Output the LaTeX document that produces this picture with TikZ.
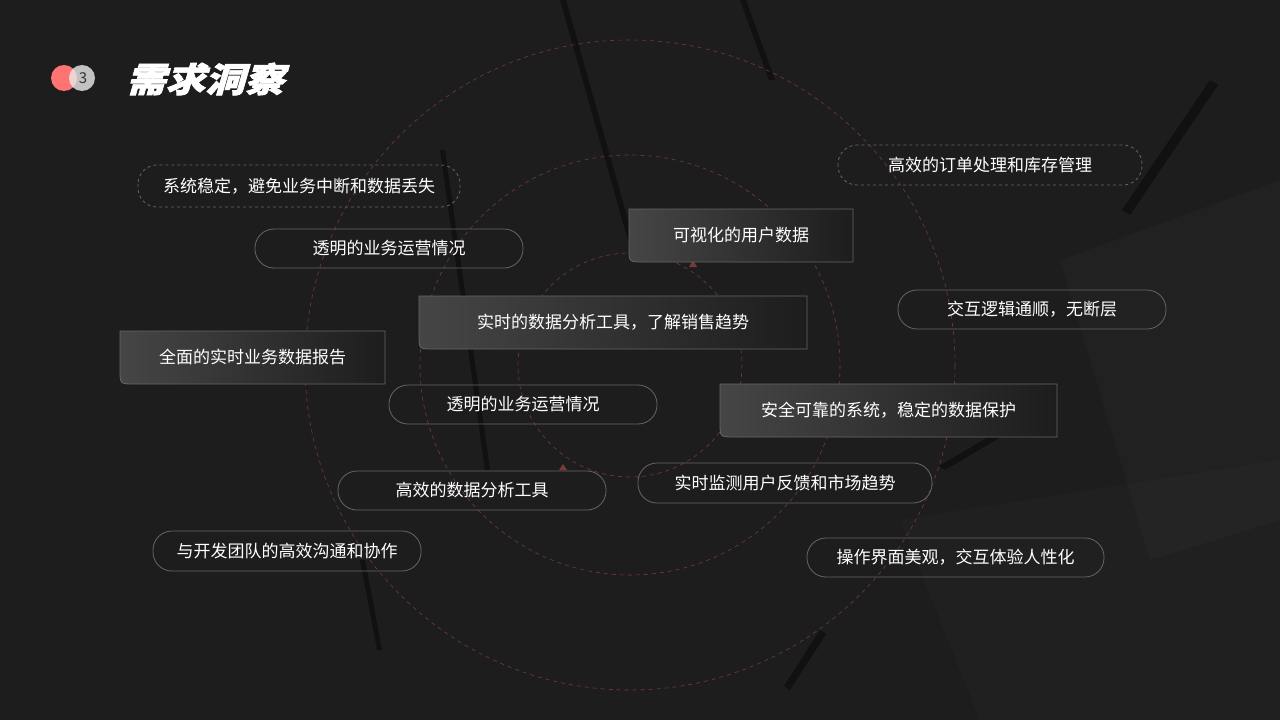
\documentclass[tikz,border=0pt]{standalone}
\usepackage{fontspec}
\setmainfont{Noto Sans CJK SC}
\newfontfamily\titlefont[FakeSlant=0.25,FakeBold=2]{Noto Sans CJK SC Black}
\usetikzlibrary{shapes.geometric}
\definecolor{bg}{HTML}{1D1D1D}
\definecolor{ring}{HTML}{7A3838}
\definecolor{edge}{HTML}{666666}
\tikzset{
 pill/.style={draw=edge,line width=0.8pt,rounded corners=19pt},
 dpill/.style={pill,dash pattern=on 3pt off 3pt},
 lbl/.style={text=white,font=\fontsize{17}{20}\selectfont,inner sep=0pt},
 ringl/.style={draw=ring,dash pattern=on 4pt off 4pt,line width=0.6pt},
 glass/.style={draw=edge,line width=0.8pt,left color=white!18!bg,right color=bg},
 streak/.style={fill=black,opacity=0.4},
}
\newcommand{\glassbox}[6]{%
 \path[glass] (#1,#2) -- (#3,#2) -- (#3,#4) -- (#1+14,#4) .. controls (#1,#4) .. (#1,#4-14) -- cycle;
 \node[lbl] (#6) at ({(#1+#3)/2},{(#2+#4)/2}) {#5};}
\newcommand{\pillbox}[7]{%
 \path[#7] (#1,#2) rectangle (#3,#4);
 \node[lbl] (#6) at ({(#1+#3)/2},{(#2+#4)/2}) {#5};}
\begin{document}
\begin{tikzpicture}[x=1pt,y=-1pt]
\fill[bg] (0,0) rectangle (1280,720);
\useasboundingbox (0,0) rectangle (1280,720);
% background streaks
\fill[white,opacity=0.02] (1060,260) -- (1280,180) -- (1280,520) -- (1150,560) -- cycle;
\fill[white,opacity=0.015] (900,520) -- (1280,460) -- (1280,720) -- (980,720) -- cycle;
\fill[streak] (560,0) -- (566,0) -- (640,262) -- (634,262) -- cycle;
\fill[streak] (740,0) -- (746,0) -- (775,80) -- (769,80) -- cycle;
\fill[streak] (440,150) -- (445,150) -- (490,470) -- (485,470) -- cycle;
\fill[streak] (360,560) -- (365,560) -- (382,650) -- (377,650) -- cycle;
\fill[streak] (1210,80) -- (1218,85) -- (1130,215) -- (1122,210) -- cycle;
\fill[streak] (1000,430) -- (1006,434) -- (945,470) -- (939,466) -- cycle;
\fill[streak] (820,630) -- (826,634) -- (790,690) -- (784,686) -- cycle;
% rings
\draw[ringl] (630,365) circle (325);
\draw[ringl] (630,365) circle (210);
\draw[ringl] (630,365) circle (112);
\fill[ring] (693,260) -- (689,267) -- (697,267) -- cycle;
\fill[ring] (527,296) -- (523,303) -- (531,303) -- cycle;
\fill[ring] (563,464) -- (559,470) -- (567,470) -- cycle;
\fill[ring] (728,436) -- (726,428) -- (734,430) -- cycle;
% header
\fill[red!55!white] (64,78) circle (13);
\fill[white!85!gray,opacity=0.8] (82,78) circle (13);
\node[font=\fontsize{15}{15}\selectfont,text=black!80,inner sep=0pt] (num) at (83,78) {3};
\node[anchor=west,text=white,font=\titlefont\fontsize{34}{36}\selectfont,inner sep=0pt,xscale=1.16] (title) at (126,79) {需求洞察};
% items
\pillbox{138}{165}{460}{207}{系统稳定，避免业务中断和数据丢失}{a}{dpill}
\pillbox{838}{145}{1142}{185}{高效的订单处理和库存管理}{b}{dpill}
\pillbox{255}{229}{523}{268}{透明的业务运营情况}{c}{pill}
\glassbox{629}{209}{853}{262}{可视化的用户数据}{d}
\pillbox{898}{290}{1166}{329}{交互逻辑通顺，无断层}{e}{pill}
\glassbox{419}{296}{807}{349}{实时的数据分析工具，了解销售趋势}{f}
\glassbox{120}{331}{385}{384}{全面的实时业务数据报告}{g}
\pillbox{389}{385}{657}{424}{透明的业务运营情况}{h}{pill}
\glassbox{720}{384}{1057}{437}{安全可靠的系统，稳定的数据保护}{i}
\pillbox{338}{471}{606}{510}{高效的数据分析工具}{j}{pill}
\pillbox{638}{463}{932}{503}{实时监测用户反馈和市场趋势}{k}{pill}
\pillbox{153}{531}{421}{571}{与开发团队的高效沟通和协作}{l}{pill}
\pillbox{807}{538}{1104}{577}{操作界面美观，交互体验人性化}{m}{pill}
\end{tikzpicture}
\end{document}
